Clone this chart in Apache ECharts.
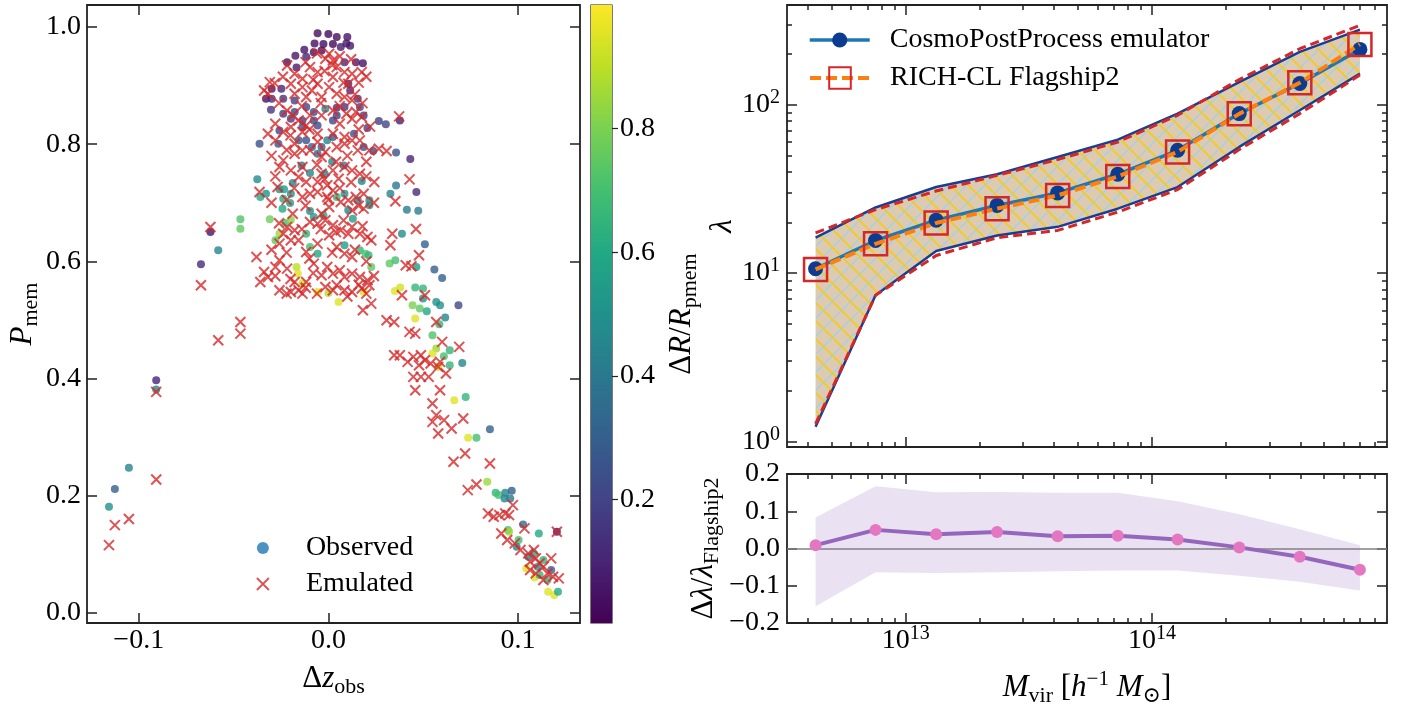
<!DOCTYPE html>
<html><head><meta charset="utf-8">
<script src="https://cdn.jsdelivr.net/npm/echarts@6.0.0/dist/echarts.min.js"></script>
<style>html,body{margin:0;padding:0;background:#fff}#c{width:1416px;height:708px}</style>
</head><body><div id="c"></div>
<script>
// ---------------- data: left panel (Δz_obs, P_mem, ΔR/R_pmem) ----------------
const obsPoints = [
[-0.0057,0.9895,0.03],[0.0000,0.9880,0.02],[0.0044,0.9830,0.03],[0.0100,0.9830,0.05],[-0.0073,0.9720,0.04],
[-0.0026,0.9710,0.03],[0.0024,0.9710,0.02],[0.0095,0.9720,0.06],[-0.0127,0.9610,0.05],[-0.0077,0.9570,0.04],
[-0.0036,0.9600,0.03],[0.0065,0.9660,0.08],[0.0115,0.9680,0.06],[-0.0174,0.9510,0.06],[-0.0218,0.9400,0.05],
[-0.0168,0.9310,0.08],[0.0145,0.9400,0.07],[0.0182,0.9380,0.05],[-0.0117,0.9490,0.10],[0.0085,0.9400,0.12],
[-0.0299,0.8946,0.05],[-0.0248,0.8946,0.10],[-0.0329,0.8775,0.04],[-0.0299,0.8775,0.12],[-0.0238,0.8775,0.15],
[-0.0178,0.8747,0.18],[-0.0303,0.8588,0.15],[-0.0238,0.8519,0.18],[-0.0178,0.8548,0.20],[-0.0117,0.8633,0.20],
[-0.0077,0.8548,0.22],[-0.0016,0.8605,0.45],[0.0044,0.8622,0.15],[0.0105,0.9031,0.10],[0.0115,0.8917,0.12],
[0.0155,0.8775,0.15],[0.0166,0.8633,0.20],[0.0186,0.8491,0.18],[0.0206,0.8275,0.20],[0.0266,0.8394,0.18],
[0.0303,0.8338,0.20],[0.0377,0.8406,0.08],[0.0024,0.8406,0.20],[-0.0077,0.8406,0.22],[-0.0137,0.8406,0.20],
[-0.0198,0.8434,0.18],[-0.0137,0.8292,0.25],[-0.0057,0.8320,0.22],[0.0044,0.8491,0.18],[0.0085,0.8633,0.15],
[-0.0363,0.8008,0.25],[-0.0264,0.8008,0.25],[-0.0258,0.8235,0.22],[-0.0157,0.8065,0.28],[-0.0117,0.8065,0.25],
[-0.0036,0.7951,0.30],[-0.0006,0.8065,0.45],[0.0024,0.8122,0.28],[0.0135,0.8178,0.25],[0.0186,0.7951,0.25],
[0.0236,0.7883,0.22],[0.0357,0.7860,0.25],[0.0432,0.7746,0.10],[-0.0087,0.7951,0.30],[-0.0057,0.7837,0.35],
[-0.0141,0.7638,0.40],[-0.0097,0.7508,0.45],[-0.0020,0.7496,0.42],[0.0020,0.7701,0.45],[0.0081,0.7638,0.40],
[0.0176,0.7371,0.45],[-0.0375,0.7400,0.48],[-0.0188,0.7337,0.45],[-0.0258,0.7229,0.50],[-0.0234,0.7229,0.55],
[0.0357,0.7297,0.40],[0.0327,0.7155,0.45],[0.0464,0.7184,0.12],[0.0085,0.7155,0.50],[0.0155,0.7042,0.45],
[0.0216,0.7042,0.48],[0.0216,0.6957,0.50],
[-0.0359,0.7099,0.60],[-0.0329,0.7155,0.50],[-0.0238,0.7070,0.62],[-0.0198,0.7155,0.50],[-0.0202,0.6996,0.55],
[-0.0242,0.6900,0.60],[-0.0097,0.6860,0.48],[-0.0077,0.6758,0.55],[-0.0026,0.6786,0.60],[0.0105,0.6871,0.45],
[0.0129,0.6729,0.55],[0.0044,0.7099,0.65],[0.0414,0.6883,0.42],[0.0474,0.6866,0.42],
[-0.0464,0.6718,0.72],[-0.0309,0.6718,0.78],[-0.0464,0.6559,0.75],[-0.0228,0.6655,0.70],[-0.0198,0.6712,0.82],
[-0.0258,0.6473,0.85],[-0.0279,0.6360,0.75],[-0.0117,0.6473,0.65],[-0.0097,0.6246,0.70],[-0.0057,0.6132,0.60],
[0.0085,0.6274,0.55],[0.0166,0.6189,0.65],[0.0196,0.6132,0.72],[0.0212,0.6104,0.65],[0.0226,0.5905,0.75],
[0.0323,0.5962,0.75],[0.0353,0.6019,0.70],[0.0388,0.6473,0.48],[0.0509,0.6292,0.30],[0.0559,0.5860,0.30],
[0.0600,0.5718,0.30],[0.0464,0.5905,0.55],
[-0.0168,0.5905,0.90],[-0.0161,0.5791,0.95],[-0.0137,0.5621,0.92],[-0.0057,0.5479,0.95],[0.0000,0.5462,0.88],
[0.0054,0.5308,0.95],[0.0186,0.5479,0.95],[0.0351,0.5496,0.95],[0.0379,0.5553,0.93],[0.0458,0.5024,0.95],
[0.0444,0.5251,0.80],[0.0482,0.5195,0.75],[0.0519,0.5149,0.60],[0.0549,0.4740,0.72],[0.0569,0.4513,0.85],
[0.0549,0.4427,0.95],[0.0458,0.5553,0.65],[0.0499,0.5536,0.65],[0.0499,0.5365,0.50],[0.0569,0.5308,0.50],
[0.0589,0.5251,0.50],[0.0616,0.5041,0.45],[0.0585,0.4928,0.65],[0.0686,0.5251,0.22],[0.0640,0.4484,0.65],
[-0.0672,0.5950,0.12],[-0.0622,0.6502,0.05],[-0.0581,0.6189,0.45],
[0.0609,0.4382,0.70],[0.0640,0.4228,0.65],[0.0579,0.4200,0.90],[0.0706,0.4268,0.45],[0.0664,0.3632,0.95],
[0.0724,0.3688,0.65],[0.0852,0.3137,0.30],[0.0737,0.2990,0.95],[0.0781,0.2990,0.70],[0.0838,0.2239,0.85],
[0.0882,0.2052,0.65],[0.0898,0.2012,0.70],[0.0933,0.2052,0.45],[0.0967,0.2086,0.30],[0.0929,0.1955,0.45],
[0.0959,0.1955,0.40],[0.0947,0.1415,0.70],[0.0953,0.1387,0.85],[0.1027,0.1512,0.35],[0.1003,0.1245,0.70],
[0.1110,0.1358,0.60],[0.1205,0.1387,0.05],[0.1044,0.0762,0.95],[0.1088,0.0608,0.95],[0.1114,0.0648,0.65],
[0.1155,0.0563,0.65],[0.1159,0.0364,0.95],[0.1191,0.0307,0.95],[0.1211,0.0364,0.60],[0.1175,0.0733,0.30],
[0.1054,0.0960,0.45],[0.1084,0.1017,0.60],[0.1134,0.0904,0.65],[0.0993,0.1131,0.45],[0.1104,0.0790,0.50],
[-0.0908,0.3973,0.10],[-0.0908,0.3814,0.45],[-0.1052,0.2478,0.45],[-0.1126,0.2114,0.30],[-0.1157,0.1813,0.50]
];
const emuPoints = [
[-0.0218,0.9344],[-0.0178,0.9201],[-0.0137,0.9116],[-0.0097,0.9315],[-0.0057,0.9230],[-0.0016,0.9457],[0.0004,0.9542],
[0.0024,0.9429],[0.0044,0.9315],[0.0085,0.9230],[0.0125,0.9201],[0.0176,0.9230],[-0.0137,0.8974],[-0.0057,0.9031],
[0.0004,0.8974],[0.0044,0.8861],[0.0085,0.8804],[0.0125,0.8747],[-0.0178,0.8861],[-0.0117,0.8804],[-0.0036,0.8804],
[-0.0198,0.9031],[-0.0087,0.8917],[0.0024,0.9145],[0.0105,0.9031],[-0.0339,0.8917],[-0.0309,0.9059],[-0.0283,0.9042],
[-0.0319,0.8861],[-0.0218,0.8576],[-0.0188,0.8491],[-0.0157,0.8406],[-0.0117,0.8320],[-0.0097,0.8491],[-0.0036,0.8491],
[0.0024,0.8576],[0.0095,0.8519],[0.0145,0.8548],[0.0176,0.8463],[0.0125,0.8434],[-0.0198,0.8292],[-0.0238,0.8207],
[-0.0137,0.8207],[-0.0057,0.8178],[0.0024,0.8178],[0.0085,0.8122],[0.0125,0.8065],[0.0373,0.8474],[-0.0319,0.8178],
[-0.0279,0.8065],[-0.0178,0.8008],[-0.0137,0.7894],[-0.0097,0.7894],[-0.0057,0.8036],[-0.0016,0.7866],[0.0044,0.7951],
[0.0085,0.8008],[0.0166,0.8065],[0.0266,0.7923],[0.0307,0.7883],[0.0155,0.7894],[0.0216,0.7894],[-0.0178,0.7837],
[-0.0036,0.7781],[-0.0238,0.7724],[-0.0258,0.7610],[-0.0198,0.7553],[-0.0157,0.7440],[-0.0117,0.7354],[-0.0057,0.7354],
[-0.0036,0.7496],[0.0024,0.7553],[0.0085,0.7610],[0.0125,0.7553],[0.0166,0.7496],[0.0242,0.7354],[-0.0137,0.7610],
[-0.0006,0.7298],[0.0054,0.7411],[-0.0363,0.7184],[-0.0268,0.7269],[-0.0137,0.7099],[-0.0097,0.7155],[-0.0057,0.7184],
[-0.0006,0.7099],[0.0024,0.7212],[0.0065,0.7013],[0.0105,0.7042],[0.0145,0.7099],[0.0186,0.7155],[0.0428,0.7400],
[0.0353,0.7025],[0.0004,0.6928],[0.0125,0.6871],[0.0186,0.6900],[-0.0036,0.6814],[-0.0188,0.6814],[-0.0218,0.6587],
[-0.0238,0.6473],[-0.0178,0.6530],[-0.0198,0.6360],[-0.0258,0.6303],[-0.0097,0.6672],[-0.0057,0.6644],[-0.0016,0.6701],
[0.0024,0.6616],[0.0065,0.6530],[0.0105,0.6473],[0.0125,0.6587],[0.0166,0.6473],[0.0206,0.6417],[0.0226,0.6360],
[0.0337,0.6473],[0.0462,0.6553],[0.0327,0.6275],[0.0478,0.6104],[-0.0157,0.6360],[-0.0117,0.6161],[-0.0057,0.6303],
[0.0004,0.6445],[0.0044,0.6246],[0.0085,0.6132],[0.0125,0.6076],[-0.0379,0.6076],[-0.0339,0.5820],[-0.0359,0.5649],
[-0.0319,0.5735],[-0.0279,0.5905],[-0.0258,0.6019],[-0.0218,0.5877],[-0.0178,0.5649],[-0.0157,0.5507],[-0.0117,0.5649],
[-0.0077,0.5962],[-0.0036,0.5763],[-0.0006,0.5905],[0.0024,0.5791],[0.0044,0.5593],[0.0085,0.5735],[0.0125,0.5791],
[0.0166,0.5735],[0.0206,0.5678],[-0.0258,0.5507],[-0.0198,0.5479],[-0.0137,0.5450],[-0.0016,0.5564],[0.0024,0.5507],
[0.0085,0.5507],[0.0125,0.5479],[0.0176,0.5536],[0.0216,0.5593],[0.0408,0.5934],[0.0438,0.5917],[0.0182,0.5166],
[0.0226,0.5280],[0.0307,0.4996],[0.0347,0.4967],[0.0388,0.5422],[0.0509,0.5422],[0.0428,0.4797],[0.0458,0.4768],
[0.0569,0.4967],[0.0600,0.4626],[0.0690,0.4541],[-0.0672,0.5592],[-0.0622,0.6587],[-0.0581,0.4655],[-0.0464,0.4967],
[-0.0464,0.4768],
[-0.006,0.955],[0.006,0.950],[0.012,0.945],[-0.012,0.940],[0.002,0.935],
[-0.024,0.915],[-0.002,0.925],[0.016,0.905],[0.020,0.915],[-0.008,0.910],[0.008,0.905],
[-0.026,0.870],[-0.004,0.870],[0.014,0.885],[0.018,0.870],[-0.014,0.865],[0.006,0.865],
[-0.028,0.835],[-0.010,0.825],[0.006,0.835],[0.016,0.825],[0.022,0.830],[-0.020,0.815],
[-0.022,0.790],[-0.006,0.765],[0.010,0.780],[0.020,0.770],[-0.030,0.780],[0.004,0.770],
[-0.018,0.725],[-0.002,0.740],[0.012,0.735],[0.020,0.745],[-0.028,0.745],[0.006,0.725],
[-0.022,0.705],[-0.012,0.695],[0.000,0.705],[0.016,0.695],[0.024,0.700],[-0.030,0.700],
[-0.014,0.655],[-0.004,0.655],[0.008,0.670],[0.018,0.660],[-0.026,0.665],[0.004,0.650],
[-0.022,0.615],[-0.010,0.605],[0.002,0.615],[0.014,0.620],[0.020,0.600],[-0.030,0.620],
[-0.028,0.575],[-0.020,0.570],[-0.008,0.580],[0.006,0.585],[0.016,0.560],[0.024,0.575],[-0.012,0.555],
[-0.022,0.545],[-0.006,0.545],[0.010,0.540],[0.020,0.545],
[0.0347,0.4399],[0.0377,0.4399],[0.0418,0.4285],[0.0448,0.4371],[0.0488,0.4399],[0.0478,0.4228],[0.0509,0.4314],
[0.0539,0.4257],[0.0589,0.4285],[0.0579,0.4200],[0.0620,0.4086],[0.0448,0.4030],[0.0488,0.4030],[0.0529,0.4030],
[0.0458,0.3802],[0.0589,0.3802],[0.0549,0.3575],[0.0569,0.3376],[0.0549,0.3262],[0.0610,0.3291],[0.0650,0.3149],
[0.0579,0.3063],[0.0711,0.3319],[0.0660,0.2580],[0.0721,0.2722],[0.0852,0.2552],[0.0735,0.2097],[0.0781,0.2194],
[0.0842,0.1699],[0.0872,0.1643],[0.0902,0.1671],[0.0933,0.1699],[0.0973,0.1841],[0.0953,0.1671],[0.0912,0.1358],
[0.0943,0.1245],[0.0983,0.1188],[0.1013,0.1074],[0.1034,0.1444],[0.1054,0.1017],[0.1084,0.1074],[0.1094,0.0932],
[0.1064,0.0875],[0.1114,0.0847],[0.1134,0.0790],[0.1175,0.0932],[0.1205,0.1387],[0.1155,0.0676],[0.1185,0.0619],
[0.1215,0.0591],[0.1094,0.0676],[0.1134,0.0563],[0.1064,0.0733],
[-0.0908,0.3774],[-0.0908,0.2279],[-0.1052,0.1603],[-0.1126,0.1500],[-0.1157,0.1159]
];

// ---------------- data: right panels ----------------
const massBins = [4.31e12, 7.55e12, 1.33e13, 2.35e13, 4.14e13, 7.26e13, 1.27e14, 2.26e14, 3.98e14, 6.98e14];
const lamEmu   = [10.6, 15.6, 20.6, 25.2, 29.9, 38.6, 53.6, 88.5, 133.5, 213];
const lamEmuHi = [16.2, 24.5, 32.4, 38.6, 48.9, 62.0, 88.5, 136, 206, 279];
const lamEmuLo = [1.22, 7.37, 13.5, 16.7, 18.8, 24.1, 32.4, 56.1, 92.6, 153];
const lamFs    = [10.5, 14.9, 19.8, 24.1, 28.9, 37.4, 52.4, 88.2, 135, 228];
const lamFsHi  = [17.3, 23.8, 30.7, 38.0, 47.2, 60.0, 86.5, 141, 215, 296];
const lamFsLo  = [1.27, 7.37, 12.7, 16.2, 17.9, 23.0, 31.3, 54.1, 88.5, 150];
const resid    = [0.009, 0.050, 0.038, 0.044, 0.033, 0.034, 0.024, 0.003, -0.022, -0.057];
const residHi  = [0.083, 0.167, 0.151, 0.152, 0.150, 0.150, 0.127, 0.092, 0.052, 0.009];
const residLo  = [-0.155, -0.064, -0.066, -0.064, -0.061, -0.059, -0.059, -0.073, -0.089, -0.113];

// ---------------- tick values ----------------
const leftXTicks = [-0.1, 0, 0.1];
const leftYTicks = [0, 0.2, 0.4, 0.6, 0.8, 1.0];
const cbTicks = [0.2, 0.4, 0.6, 0.8];
const massMajor = [1e13, 1e14];
const massMinor = [4e12,5e12,6e12,7e12,8e12,9e12,2e13,3e13,4e13,5e13,6e13,7e13,8e13,9e13,2e14,3e14,4e14,5e14,6e14,7e14,8e14];
const lamMajor = [1, 10, 100];
const lamMinor = [2,3,4,5,6,7,8,9,20,30,40,50,60,70,80,90,200,300];
const residTicks = [-0.2, -0.1, 0, 0.1, 0.2];

const viridis = ['#440154','#482475','#414487','#355f8d','#2a788e','#21918c','#22a884','#44bf70','#7ad151','#bddf26','#fde725'];

// ---------------- styles ----------------
const FONT = 'Liberation Serif, DejaVu Serif, serif';
const SP = '#222';
const CROSS = 'path://M0,0L1,1M1,0L0,1';
const MASS_MIN = 3.30e12, MASS_MAX = 8.99e14;

const nameRich = {
  i: {fontFamily: FONT, fontStyle: 'italic', fontSize: 31, color: '#000', verticalAlign: 'top', padding: [4,0,0,0]},
  r: {fontFamily: FONT, fontSize: 31, color: '#000', verticalAlign: 'top', padding: [4,0,0,0]},
  s: {fontFamily: FONT, fontSize: 22, color: '#000', verticalAlign: 'top', padding: [17,0,0,0]},
  p: {fontFamily: FONT, fontSize: 21, color: '#000', verticalAlign: 'top', padding: [1,0,0,0]}
};
const logRichY = {
  b: {fontFamily: FONT, fontSize: 28, color: '#000', verticalAlign: 'top', padding: [3,0,3,0]},
  p: {fontFamily: FONT, fontSize: 20, color: '#000', verticalAlign: 'top'}
};
const logRichX = {
  b: {fontFamily: FONT, fontSize: 28, color: '#000', verticalAlign: 'top', padding: [3,0,0,0]},
  p: {fontFamily: FONT, fontSize: 20, color: '#000', verticalAlign: 'top'}
};
function fmt1(v) { const a = Math.abs(v).toFixed(1); return (v < -1e-9 ? '\u2212' : '') + a; }
function logFmt(v) { return '{b|10}{p|' + Math.round(Math.log10(v)) + '}'; }
const lbl = {fontFamily: FONT, fontSize: 28, color: '#000'};

function ticks(vals, len, inside, w) {
  return {show: true, inside: inside !== false, length: len, customValues: vals, lineStyle: {color: SP, width: w || 1.5}};
}
function mk(o) {
  return Object.assign({
    splitLine: {show: false},
    axisLine: {show: false, onZero: false},
    axisLabel: {show: false},
    axisTick: {show: false},
    axisPointer: {show: false}
  }, o);
}

// hatch pattern for the λ band
const hatch = document.createElement('canvas');
hatch.width = 18; hatch.height = 18;
(function () {
  const g = hatch.getContext('2d');
  g.fillStyle = '#dccab3'; g.fillRect(0, 0, 18, 18);
  g.lineWidth = 1.3;
  g.strokeStyle = '#9fd2ea';
  g.beginPath();
  g.moveTo(-3, 3); g.lineTo(3, -3);
  g.moveTo(-1, 19); g.lineTo(19, -1);
  g.moveTo(15, 21); g.lineTo(21, 15);
  g.stroke();
  g.lineWidth = 1.5;
  g.strokeStyle = '#f7cc00';
  g.beginPath();
  g.moveTo(-3, 6); g.lineTo(12, 21);
  g.moveTo(6, -3); g.lineTo(21, 12);
  g.stroke();
})();

function band(xIdx, yIdx, xs, hi, lo, fill, z) {
  return {
    type: 'custom', xAxisIndex: xIdx, yAxisIndex: yIdx, z: z, silent: true, clip: true,
    data: xs.map(function (x, i) { return [x, hi[i], lo[i]]; }),
    encode: {x: 0, y: [1, 2]},
    renderItem: function (params, api) {
      if (params.dataIndex !== 0) return null;
      const pts = [];
      for (let i = 0; i < xs.length; i++) pts.push(api.coord([xs[i], hi[i]]));
      for (let i = xs.length - 1; i >= 0; i--) pts.push(api.coord([xs[i], lo[i]]));
      return {type: 'polygon', shape: {points: pts}, style: {fill: fill}};
    }
  };
}
function pairs(xs, ys) { return xs.map(function (x, i) { return [x, ys[i]]; }); }
function boundLine(ys, color, width, type, z) {
  return {type: 'line', xAxisIndex: 3, yAxisIndex: 3, data: pairs(massBins, ys), symbol: 'none', z: z,
    lineStyle: {color: color, width: width, type: type}, silent: true};
}

const gridStyle = {show: true, borderColor: SP, borderWidth: 1.8, backgroundColor: 'transparent'};

const xAxes = [
  mk({gridIndex: 0, type: 'value', min: -0.1273, max: 0.1327, position: 'bottom',
      axisTick: ticks(leftXTicks, 10),
      axisLabel: Object.assign({show: true, customValues: leftXTicks, formatter: fmt1, margin: 4}, lbl),
      name: '{r|\u0394}{i|z}{s|obs}', nameLocation: 'middle', nameGap: 36, nameTextStyle: {rich: nameRich}}),
  mk({gridIndex: 0, type: 'value', min: -0.1273, max: 0.1327, position: 'top', axisTick: ticks(leftXTicks, 10)}),
  {gridIndex: 1, type: 'category', data: [''], show: false},
  mk({gridIndex: 2, type: 'log', logBase: 10, min: MASS_MIN, max: MASS_MAX, position: 'bottom', axisTick: ticks(massMajor, 10)}),
  mk({gridIndex: 2, type: 'log', logBase: 10, min: MASS_MIN, max: MASS_MAX, position: 'bottom', axisTick: ticks(massMinor, 5)}),
  mk({gridIndex: 2, type: 'log', logBase: 10, min: MASS_MIN, max: MASS_MAX, position: 'top', axisTick: ticks(massMajor, 10)}),
  mk({gridIndex: 2, type: 'log', logBase: 10, min: MASS_MIN, max: MASS_MAX, position: 'top', axisTick: ticks(massMinor, 5)}),
  mk({gridIndex: 3, type: 'log', logBase: 10, min: MASS_MIN, max: MASS_MAX, position: 'bottom', axisTick: ticks(massMajor, 10),
      axisLabel: {show: true, customValues: massMajor, formatter: logFmt, rich: logRichX, margin: 1},
      name: '{i|M}{s|vir}{r| [}{i|h}{p|\u22121}{r| }{i|M}{s|\u2299}{r|]}', nameLocation: 'middle', nameGap: 45, nameTextStyle: {rich: nameRich}}),
  mk({gridIndex: 3, type: 'log', logBase: 10, min: MASS_MIN, max: MASS_MAX, position: 'bottom', axisTick: ticks(massMinor, 5)}),
  mk({gridIndex: 3, type: 'log', logBase: 10, min: MASS_MIN, max: MASS_MAX, position: 'top', axisTick: ticks(massMajor, 10)}),
  mk({gridIndex: 3, type: 'log', logBase: 10, min: MASS_MIN, max: MASS_MAX, position: 'top', axisTick: ticks(massMinor, 5)})
];

const yAxes = [
  mk({gridIndex: 0, type: 'value', min: -0.01705, max: 1.0375, position: 'left', axisTick: ticks(leftYTicks, 10),
      axisLabel: Object.assign({show: true, customValues: leftYTicks, formatter: fmt1, margin: 6}, lbl),
      name: '{i|P}{s|mem}', nameLocation: 'middle', nameRotate: 90, nameGap: 45, nameTextStyle: {rich: nameRich}}),
  mk({gridIndex: 0, type: 'value', min: -0.01705, max: 1.0375, position: 'right', axisTick: ticks(leftYTicks, 10)}),
  mk({gridIndex: 1, type: 'value', min: 0, max: 1, position: 'right', axisTick: ticks(cbTicks, 6, false, 1.2),
      axisLabel: Object.assign({show: true, customValues: cbTicks, formatter: fmt1, margin: 8}, lbl),
      name: '{r|\u0394}{i|R}{r|/}{i|R}{s|pmem}', nameLocation: 'middle', nameRotate: 90, nameGap: 50, nameTextStyle: {rich: nameRich}}),
  mk({gridIndex: 2, type: 'log', logBase: 10, min: 0.925, max: 391, position: 'left', axisTick: ticks(lamMajor, 10),
      axisLabel: {show: true, customValues: lamMajor, formatter: logFmt, rich: logRichY, margin: 7},
      name: '{i|\u03bb}', nameLocation: 'middle', nameRotate: 90, nameGap: 46, nameTextStyle: {rich: nameRich}}),
  mk({gridIndex: 2, type: 'log', logBase: 10, min: 0.925, max: 391, position: 'left', axisTick: ticks(lamMinor, 5)}),
  mk({gridIndex: 2, type: 'log', logBase: 10, min: 0.925, max: 391, position: 'right', axisTick: ticks(lamMajor, 10)}),
  mk({gridIndex: 2, type: 'log', logBase: 10, min: 0.925, max: 391, position: 'right', axisTick: ticks(lamMinor, 5)}),
  mk({gridIndex: 3, type: 'value', min: -0.2, max: 0.2, position: 'left', axisTick: ticks(residTicks, 10),
      axisLabel: Object.assign({show: true, customValues: residTicks, formatter: fmt1, margin: 7}, lbl),
      name: '{r|\u0394}{i|\u03bb}{r|/}{i|\u03bb}{s|Flagship2}', nameLocation: 'middle', nameRotate: 90, nameGap: 64, nameTextStyle: {rich: nameRich}}),
  mk({gridIndex: 3, type: 'value', min: -0.2, max: 0.2, position: 'right', axisTick: ticks(residTicks, 10)})
];

const cbStops = viridis.map(function (c, i) { return {offset: i / (viridis.length - 1), color: c}; });

const option = {
  animation: false,
  backgroundColor: '#fff',
  grid: [
    Object.assign({left: 87, top: 5, width: 493, height: 618}, gridStyle),
    Object.assign({left: 591, top: 5, width: 21, height: 618}, gridStyle, {borderWidth: 1.2}),
    Object.assign({left: 787, top: 5, width: 600, height: 442}, gridStyle),
    Object.assign({left: 787, top: 474, width: 600, height: 149}, gridStyle)
  ],
  xAxis: xAxes,
  yAxis: yAxes,
  visualMap: {type: 'continuous', show: false, min: 0, max: 1, dimension: 2, seriesIndex: 0, inRange: {color: viridis}},
  legend: [
    {data: [{name: 'Observed', icon: 'circle', itemStyle: {color: '#1f77b4'}},
            {name: 'Emulated', icon: CROSS, itemStyle: {color: 'rgba(0,0,0,0)', borderColor: '#d62728', borderWidth: 1.8}}],
     orient: 'vertical', left: 256, top: 534, itemWidth: 24, itemHeight: 12, itemGap: 8, padding: 0, selectedMode: false,
     textStyle: Object.assign({padding: [0,0,0,26]}, lbl)},
    {data: ['CosmoPostProcess emulator'], left: 808, top: 26, itemWidth: 60, itemHeight: 19, padding: 0, selectedMode: false,
     lineStyle: {width: 3.5}, textStyle: Object.assign({padding: [0,0,0,15]}, lbl)},
    {data: ['RICH-CL Flagship2'], left: 808, top: 64, itemWidth: 60, itemHeight: 27, padding: 0, selectedMode: false,
     lineStyle: {width: 4}, textStyle: Object.assign({padding: [0,0,0,15]}, lbl)}
  ],
  series: [
    {name: 'Observed', type: 'scatter', xAxisIndex: 0, yAxisIndex: 0, data: obsPoints, symbol: 'circle', symbolSize: 8,
     itemStyle: {color: '#1f77b4'}, z: 2, silent: true},
    {name: 'Emulated', type: 'scatter', xAxisIndex: 0, yAxisIndex: 0, data: emuPoints, symbol: CROSS, symbolSize: 10,
     itemStyle: {color: 'rgba(0,0,0,0)', borderColor: '#d62728', borderWidth: 2}, z: 3, silent: true},
    {type: 'bar', xAxisIndex: 2, yAxisIndex: 2, data: [1], barWidth: '100%', silent: true,
     itemStyle: {color: new echarts.graphic.LinearGradient(0, 1, 0, 0, cbStops)}},
    band(3, 3, massBins, lamEmuHi, lamEmuLo, {image: hatch, repeat: 'repeat'}, 1),
    boundLine(lamEmuHi, '#1a3d94', 2.5, 'solid', 2),
    boundLine(lamEmuLo, '#1a3d94', 2.5, 'solid', 2),
    boundLine(lamFsHi, '#d62728', 3, [9, 5], 3),
    boundLine(lamFsLo, '#d62728', 3, [9, 5], 3),
    {name: 'CosmoPostProcess emulator', type: 'line', xAxisIndex: 3, yAxisIndex: 3, data: pairs(massBins, lamEmu),
     symbol: 'circle', symbolSize: 15, showSymbol: true, z: 4, silent: true,
     lineStyle: {color: '#1f77b4', width: 3.5}, itemStyle: {color: '#0d3b8f'}},
    {name: 'RICH-CL Flagship2', type: 'line', xAxisIndex: 3, yAxisIndex: 3, data: pairs(massBins, lamFs),
     symbol: 'rect', symbolSize: 23, showSymbol: true, z: 5, silent: true,
     lineStyle: {color: '#ff7f0e', width: 4, type: [11, 5]},
     itemStyle: {color: 'rgba(0,0,0,0)', borderColor: '#d62728', borderWidth: 2.5}},
    band(7, 7, massBins, residHi, residLo, 'rgba(148,103,189,0.2)', 1),
    {type: 'line', xAxisIndex: 7, yAxisIndex: 7, data: pairs(massBins, resid), symbol: 'circle', symbolSize: 12,
     z: 4, silent: true, lineStyle: {color: '#9467bd', width: 4}, itemStyle: {color: '#e377c2'},
     markLine: {silent: true, z: 2, symbol: ['none', 'none'], label: {show: false},
       lineStyle: {color: '#808080', width: 1.5, type: 'solid'}, data: [{yAxis: 0}]}}
  ]
};

const chart = echarts.init(document.getElementById('c'), null, {renderer: 'canvas'});
chart.setOption(option);
</script>
</body></html>
